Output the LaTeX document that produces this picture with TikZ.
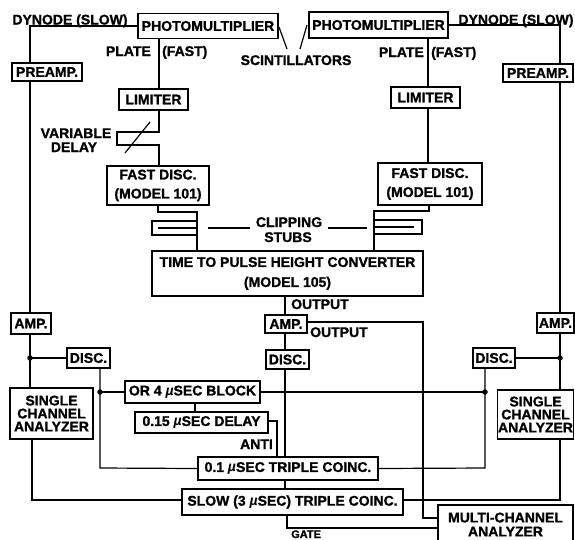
\documentclass[tikz,border=0pt]{standalone}
\usepackage{fontspec}
\setmainfont{Liberation Sans}[BoldFeatures={FakeBold=1.2}]
\newcommand{\dfnt}{\fontsize{14}{14}\selectfont\bfseries}
\newcommand{\mumu}{{\itshape µ}}
\begin{document}
\begin{tikzpicture}[x=1pt,y=-1pt,
  box/.style={draw, line width=1.8pt, inner sep=0pt, font=\dfnt, align=center},
  lbl/.style={inner sep=0pt, font=\dfnt},
  wire/.style={line width=1.2pt},
  dotn/.style={circle, fill, inner sep=0pt, minimum size=5.5pt}]
\useasboundingbox (0,0) rectangle (575,539);
% boxes
\node[box, minimum width=140, minimum height=25] (pmL) at (208,26) {PHOTOMULTIPLIER};
\node[box, minimum width=139, minimum height=26] (pmR) at (378.5,25) {PHOTOMULTIPLIER};
\node[box, minimum width=70, minimum height=18] (preL) at (47,72) {PREAMP.};
\node[box, minimum width=70, minimum height=18] (preR) at (538,73) {PREAMP.};
\node[box, minimum width=69, minimum height=21] (limL) at (153.5,99.5) {LIMITER};
\node[box, minimum width=69, minimum height=21] (limR) at (425.5,97.5) {LIMITER};
\node[box, minimum width=102, minimum height=39, font=\fontsize{14}{19}\selectfont\bfseries] (fdL) at (158,185.5) {FAST DISC.\\(MODEL 101)};
\node[box, minimum width=104, minimum height=42, font=\fontsize{14}{19}\selectfont\bfseries] (fdR) at (430,184) {FAST DISC.\\(MODEL 101)};
\node[box, minimum width=271, minimum height=45, font=\fontsize{14}{20}\selectfont\bfseries] (tphc) at (287.5,273.5) {TIME TO PULSE HEIGHT CONVERTER\\(MODEL 105)};
\node[box, minimum width=40, minimum height=21] (ampL) at (31,323.5) {AMP.};
\node[box, minimum width=42, minimum height=18] (ampC) at (286,324) {AMP.};
\node[box, minimum width=37, minimum height=20] (ampR) at (555.5,323) {AMP.};
\node[box, minimum width=43, minimum height=20] (discL) at (88.5,358) {DISC.};
\node[box, minimum width=43, minimum height=19] (discC) at (287.5,359.5) {DISC.};
\node[box, minimum width=42, minimum height=20] (discR) at (494,358) {DISC.};
\node[box, minimum width=83, minimum height=51, font=\fontsize{14}{13}\selectfont\bfseries] (scaL) at (51.5,413.5) {SINGLE\\CHANNEL\\ANALYZER};
\node[box, minimum width=76, minimum height=49, font=\fontsize{14}{13}\selectfont\bfseries] (scaR) at (535.5,414.5) {SINGLE\\CHANNEL\\ANALYZER};
\node[box, minimum width=135, minimum height=22] (orb) at (192.5,392) {OR 4 \mumu SEC BLOCK};
\node[box, minimum width=133, minimum height=21] (dly) at (201.5,422.5) {0.15 \mumu SEC DELAY};
\node[box, minimum width=180, minimum height=23] (tc) at (288,468.5) {0.1 \mumu SEC TRIPLE COINC.};
\node[box, minimum width=221, minimum height=26] (slow) at (292.5,502) {SLOW (3 \mumu SEC) TRIPLE COINC.};
\node[box, minimum width=135, minimum height=39, font=\fontsize{14}{14}\selectfont\bfseries] (mca) at (505.5,524.5) {MULTI-CHANNEL\\ANALYZER};
% labels
\node[lbl, anchor=base] (dynL) at (70,24.5) {DYNODE (SLOW)};
\node[lbl, anchor=base] (dynR) at (516,24.5) {DYNODE (SLOW)};
\node[lbl, anchor=base east] (plL) at (151,56) {PLATE};
\node[lbl, anchor=base west] (fsL) at (162,56) {(FAST)};
\node[lbl, anchor=base east] (plR) at (424,57) {PLATE};
\node[lbl, anchor=base west] (fsR) at (431,57) {(FAST)};
\node[lbl, anchor=base] (scint) at (296,65) {SCINTILLATORS};
\node[lbl, anchor=base] (var) at (76,138) {VARIABLE};
\node[lbl, anchor=base] (del) at (74,152) {DELAY};
\node[lbl, anchor=base] (clip) at (289,227) {CLIPPING};
\node[lbl, anchor=base] (stub) at (288,242) {STUBS};
\node[lbl, anchor=base west] (out1) at (291,309) {OUTPUT};
\node[lbl, anchor=base west] (out2) at (310,337) {OUTPUT};
\node[lbl, anchor=base east] (anti) at (273,449) {ANTI};
\node[lbl, anchor=base west, font=\fontsize{11}{11}\selectfont\bfseries] (gate) at (291,538) {GATE};
% named coordinates for buses
\coordinate (bL) at (30,0);
\coordinate (bR) at (560,0);
\coordinate (pL) at (159,0);
\coordinate (pR) at (428,0);
\coordinate (bC) at (285,0);
\node[dotn] (dL) at (30,358) {};
\node[dotn] (dR) at (560,358) {};
\node[dotn] (dM) at (100,392) {};
\node[dotn] (dN) at (485,392) {};
% left slow chain
\draw[wire] (pmL.west) -| (bL |- preL.north);
\draw[wire] (bL |- preL.south) -- (bL |- ampL.north);
\draw[wire] (bL |- ampL.south) -- (dL.center) -- (bL |- scaL.north);
\draw[wire] (dL.center) -- (discL.west);
\draw[wire] (scaL.south -| 32,0) -- (32,500) -- (slow.west |- 0,500);
% right slow chain
\draw[wire] (pmR.east) -| (bR |- preR.north);
\draw[wire] (bR |- preR.south) -- (bR |- ampR.north);
\draw[wire] (bR |- ampR.south) -- (dR.center) -- (bR |- scaR.north);
\draw[wire] (dR.center) -- (discR.east);
\draw[wire] (bR |- scaR.south) -- (560,500) -- (slow.east |- 0,500);
% left fast chain
\draw[wire] (pL |- pmL.south) -- (pL |- limL.north);
\draw[wire] (pL |- limL.south) -- (159,132) -- (117,132) -- (117,145) -- (159,145) -- (pL |- fdL.north);
\draw[wire] (125,153) -- (150,122);
\draw[wire] (fdL.south -| 158,0) -- (158,212) -- (197,212) -- (tphc.north -| 197,0);
\draw[wire] (197,221) -- (152,221) -- (152,235) -- (197,235);
\draw[wire] (158,228) -- (197,228);
% right fast chain
\draw[wire] (pR |- pmR.south) -- (pR |- limR.north);
\draw[wire] (pR |- limR.south) -- (pR |- fdR.north);
\draw[wire] (fdR.south -| 429,0) -- (429,211) -- (374,211) -- (tphc.north -| 374,0);
\draw[wire] (374,220) -- (422,220) -- (422,234) -- (374,234);
\draw[wire] (374,227) -- (414,227);
% clipping stubs pointers
\draw[wire] (208,228) -- (250,228);
\draw[wire] (328,228) -- (367,228);
% scintillator pointers
\draw[wire] (279,27) -- (287,49);
\draw[wire] (307,25) -- (300,49);
% central chain
\draw[wire] (bC |- tphc.south) -- (bC |- ampC.north);
\draw[wire] (bC |- ampC.south) -- (bC |- discC.north);
\draw[wire] (bC |- discC.south) -- (bC |- tc.north);
\draw[wire] (bC |- tc.south) -- (bC |- slow.north);
\draw[wire] (ampC.east |- 0,322) -- (423,322) -- (423,518) -- (mca.west |- 0,518);
\draw[wire] (slow.south -| 287,0) -- (287,528) -- (mca.west |- 0,528);
% coincidence logic
\draw[wire] (discL.south -| 100,0) -- (dM.center) -- (100,468) -- (tc.west);
\draw[wire] (dM.center) -- (orb.west);
\draw[wire] (orb.east) -- (dN.center);
\draw[wire] (discR.south -| 485,0) -- (dN.center) -- (485,468) -- (tc.east);
\draw[wire] (orb.south -| 195,0) -- (dly.north -| 195,0);
\draw[wire] (dly.east |- 0,421) -- (277,421) -- (tc.north -| 277,0);
\end{tikzpicture}
\end{document}
